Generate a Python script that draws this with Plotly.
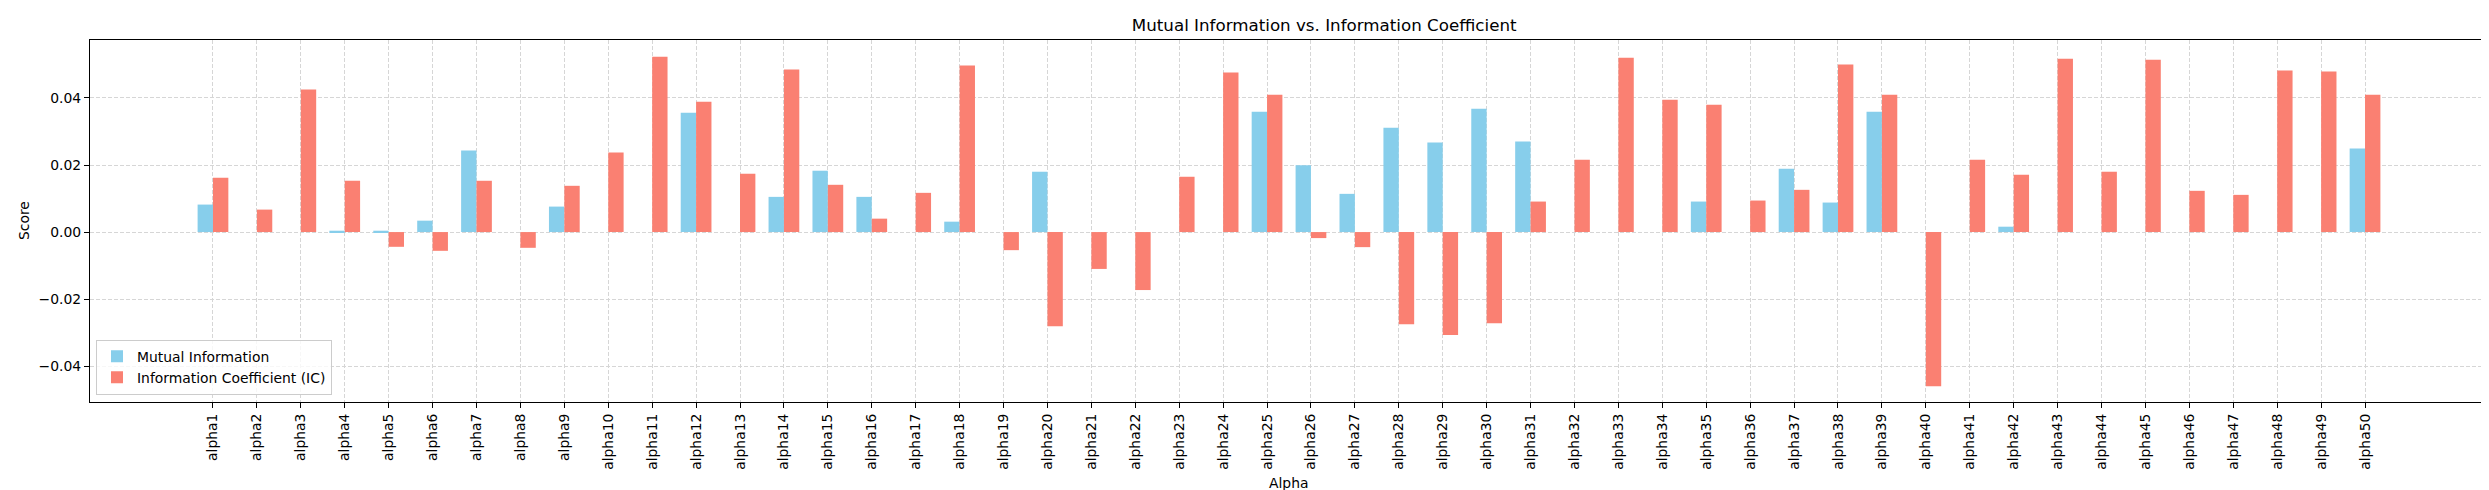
import plotly.graph_objects as go

alphas = [f"alpha{i}" for i in range(1, 51)]

mutual_info = [0.0082, 0, 0, 0.0004, 0.0004, 0.0034, 0.0243, 0, 0.0076, 0,
               0, 0.0356, 0, 0.0105, 0.0183, 0.0105, 0, 0.0031, 0, 0.0180,
               0, 0, 0, 0, 0.0359, 0.0199, 0.0114, 0.0311, 0.0267, 0.0368,
               0.0270, 0, 0, 0, 0.0091, 0, 0.0189, 0.0088, 0.0359, 0,
               0, 0.0016, 0, 0, 0, 0, 0, 0, 0, 0.0249]

info_coef = [0.0162, 0.0067, 0.0425, 0.0153, -0.0044, -0.0056, 0.0153, -0.0047, 0.0138, 0.0237,
             0.0523, 0.0389, 0.0174, 0.0485, 0.0141, 0.0040, 0.0117, 0.0497, -0.0054, -0.0281,
             -0.0110, -0.0173, 0.0165, 0.0476, 0.0410, -0.0018, -0.0045, -0.0275, -0.0307, -0.0272,
             0.0091, 0.0216, 0.0520, 0.0395, 0.0380, 0.0094, 0.0126, 0.0500, 0.0410, -0.0460,
             0.0216, 0.0171, 0.0517, 0.0180, 0.0514, 0.0123, 0.0111, 0.0482, 0.0479, 0.0410]

yticks = [-0.04, -0.02, 0.0, 0.02, 0.04]
ytick_text = ["\u22120.04", "\u22120.02", "0.00", "0.02", "0.04"]

W, H = 2489, 490
L, R, T, B = 82, 2480, 32, 394
width = 0.35

fig = go.Figure()
fig.add_trace(go.Bar(x=alphas, y=mutual_info, name="Mutual Information",
                     marker=dict(color="#87CEEB", line=dict(width=0)),
                     width=width, offset=-width))
fig.add_trace(go.Bar(x=alphas, y=info_coef, name="Information Coefficient (IC)",
                     marker=dict(color="#FA8072", line=dict(width=0)),
                     width=width, offset=0))

grid = dict(showgrid=True, gridcolor="#d6d6d6", griddash="4px,2px", gridwidth=1)
font = "DejaVu Sans, Verdana, sans-serif"

fig.update_layout(
    width=W, height=H,
    margin=dict(l=L, r=W - R, t=T, b=H - B, pad=0),
    paper_bgcolor="white", plot_bgcolor="white",
    barmode="overlay",
    font=dict(family=font, size=13.9, color="black"),
    title=dict(text="Mutual Information vs. Information Coefficient",
               x=(L + R) / 2 / W, xanchor="center", xref="paper",
               y=1 - 17 / H, yanchor="middle", yref="container",
               font=dict(size=16.7, family=font, color="black")),
    showlegend=True,
    legend=dict(x=0.0025, y=0.02, xanchor="left", yanchor="bottom",
                bgcolor="rgba(255,255,255,0.8)", bordercolor="#cccccc", borderwidth=1,
                font=dict(size=13.9, family=font), itemwidth=30,
                tracegroupgap=0),
    xaxis=dict(type="category", range=[-2.8, 51.8], tickangle=-90,
               ticks="outside", ticklen=5, tickwidth=1, tickcolor="black",
               showline=True, linecolor="black", linewidth=1.2, mirror=True,
               zeroline=False, tickfont=dict(size=13.9), **grid),
    yaxis=dict(range=[-0.0507, 0.0573], tickvals=yticks, ticktext=ytick_text,
               ticks="outside", ticklen=5, tickwidth=1, tickcolor="black",
               showline=True, linecolor="black", linewidth=1.2, mirror=True,
               zeroline=False, tickfont=dict(size=13.9), **grid),
    annotations=[
        dict(text="Alpha", xref="paper", yref="paper", x=0.5,
             y=-(475 - B) / (B - T), xanchor="center", yanchor="middle",
             showarrow=False, font=dict(size=13.9)),
        dict(text="Score", xref="paper", yref="paper", x=(16 - L) / (R - L),
             y=0.5, xanchor="center", yanchor="middle", textangle=-90,
             showarrow=False, font=dict(size=13.9)),
    ],
)

fig.write_html("out.html")
